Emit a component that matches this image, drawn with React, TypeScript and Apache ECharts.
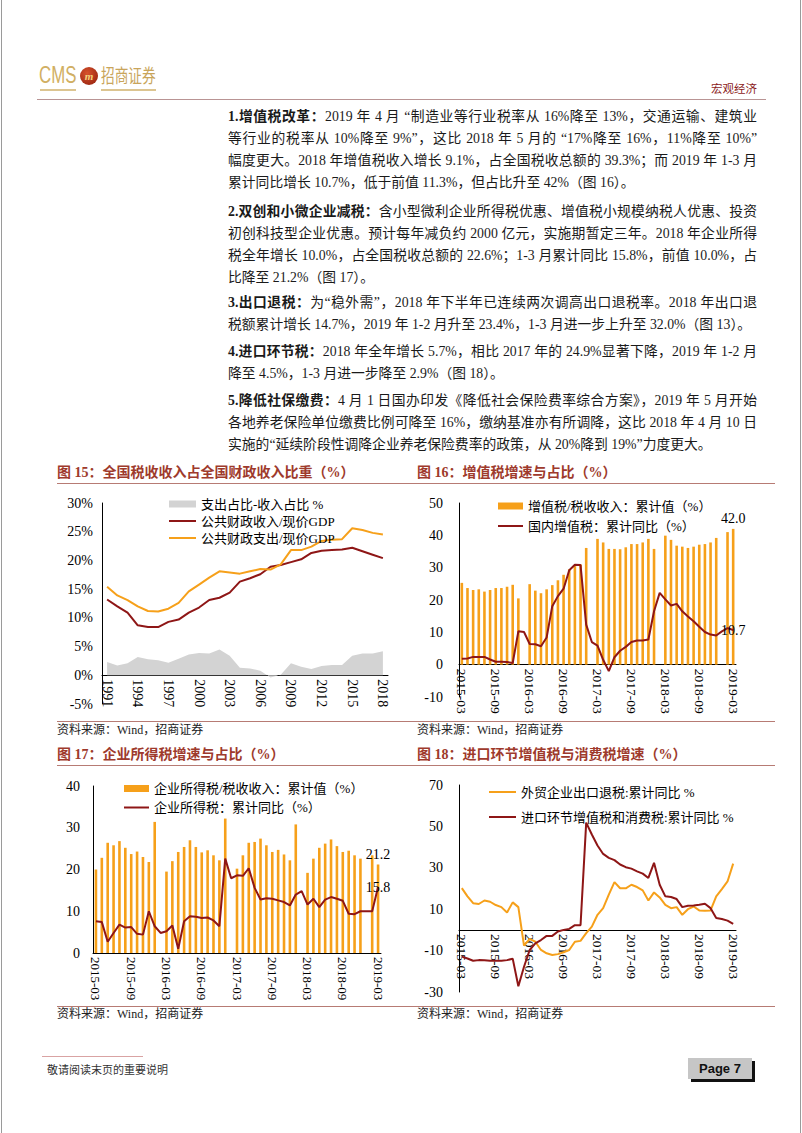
import React, { useEffect, useRef } from "react";
import * as echarts from "echarts";

// ---------- data ----------
const YEARS = ["1991","1992","1993","1994","1995","1996","1997","1998","1999","2000","2001","2002","2003","2004","2005","2006","2007","2008","2009","2010","2011","2012","2013","2014","2015","2016","2017","2018"];
const GAP_15 = [2.3,1.7,2.1,3.2,2.8,2.6,2.2,2.9,3.6,3.9,3.8,4.5,3.4,1.3,1.2,0.8,-0.4,0.1,2.1,1.5,1.1,1.6,1.8,1.8,3.4,3.8,3.8,4.2];
const REVENUE_15 = [13.2,12.0,10.9,8.7,8.4,8.4,9.3,9.7,10.9,11.8,13.1,13.5,14.4,16.3,16.9,17.6,18.9,19.2,19.7,20.2,21.3,21.7,21.8,21.9,22.2,21.6,21.0,20.4];
const EXPEND_15 = [15.4,13.9,13.1,12.0,11.2,11.1,11.6,12.6,14.6,15.8,17.0,18.1,17.9,17.7,18.1,18.5,18.4,19.3,21.8,21.8,22.4,23.4,23.6,23.7,25.6,25.3,24.8,24.5];

const MONTHS = ["2015-03","2015-04","2015-05","2015-06","2015-07","2015-08","2015-09","2015-10","2015-11","2015-12","2016-01","2016-02","2016-03","2016-04","2016-05","2016-06","2016-07","2016-08","2016-09","2016-10","2016-11","2016-12","2017-01","2017-02","2017-03","2017-04","2017-05","2017-06","2017-07","2017-08","2017-09","2017-10","2017-11","2017-12","2018-01","2018-02","2018-03","2018-04","2018-05","2018-06","2018-07","2018-08","2018-09","2018-10","2018-11","2018-12","2019-01","2019-02","2019-03"];

const VAT_SHARE = [25.3,23.7,23.1,23.3,22.6,23.1,23.7,23.7,24.1,24.7,20.5,null,24.9,22.9,22.1,23.3,24.6,26.1,27.8,29.5,30.5,31.0,36.1,null,38.9,37.8,35.8,35.8,35.7,36.3,37.3,37.3,37.8,38.9,35.8,null,39.9,38.6,36.8,36.5,36.1,36.5,37.1,37.3,37.8,39.2,null,41.0,42.0];
const VAT_GROWTH = [1.8,1.9,2.4,2.4,2.4,1.6,0.9,0.9,0.8,0.5,10.3,10.1,6.4,6.3,5.7,8.4,18.1,21.2,23.5,29.2,30.9,30.8,12.4,7.0,5.9,1.5,-2.0,2.3,4.3,5.5,7.0,7.5,7.5,7.8,16.5,22.2,20.2,18.3,18.8,16.5,14.9,13.4,11.7,10.1,9.3,9.0,10.3,11.3,10.7];

const CIT_SHARE = [20.0,22.8,26.4,25.8,26.8,25.2,23.7,24.3,23.0,21.8,31.4,null,19.5,22.0,24.2,25.4,27.0,25.4,24.1,24.6,23.4,22.2,32.2,null,20.2,23.4,26.4,26.6,27.4,25.8,24.2,24.7,23.6,22.2,30.8,null,19.2,22.6,25.2,26.2,27.2,25.6,24.2,24.5,23.4,22.6,null,23.4,21.2];
const CIT_GROWTH = [7.6,7.4,2.7,4.8,6.8,6.1,6.2,4.6,4.4,10.0,6.4,4.8,5.2,6.6,1.0,7.6,8.8,8.7,8.4,8.5,7.8,6.4,22.6,17.9,18.6,18.5,20.3,15.6,12.8,13.1,13.0,12.6,12.2,11.4,14.0,14.8,11.6,13.0,11.0,12.8,13.4,13.0,12.5,9.4,9.3,10.0,10.0,10.0,15.8];

const EXPORT_REBATE = [20.2,16.2,12.9,12.5,14.2,13.6,12.0,11.0,8.4,13.3,11.0,-7.6,-4.4,-5.7,-9.7,-11.3,-12.1,-11.7,-10.8,-9.7,-5.7,-5.3,-1.6,1.6,7.3,10.5,17.0,23.1,20.1,20.1,21.8,20.7,19.1,14.2,18.1,15.7,12.1,10.5,11.0,7.3,10.0,11.3,9.4,9.2,9.4,16.2,19.7,23.4,32.0];
const IMPORT_TAX = [-12.9,-13.8,-14.9,-14.6,-14.7,-14.9,-14.9,-14.9,-14.6,-13.9,-27.2,-17.8,-9.7,-6.5,-4.9,-2.9,-2.9,-0.8,0.0,0.5,2.3,2.3,51.8,46.1,40.8,36.7,34.8,33.7,31.6,30.3,29.6,28.3,27.2,25.1,32.4,21.8,16.2,15.9,14.9,11.0,11.7,11.8,12.1,12.6,10.5,5.8,5.3,4.5,2.9];

// ---------- styles ----------
const ORANGE = "#F6A01A";
const DARKRED = "#8E1616";
const GRAY = "#D3D3D3";
const TITLE_RED = "#9E3A2C";
const RULE = "#B77B74";
const SERIF = "'Liberation Serif','Noto Sans CJK SC',serif";
const CJK = "'Liberation Serif','Noto Sans CJK SC',sans-serif";

function Chart({ option, style }: { option: any; style: React.CSSProperties }) {
  const ref = useRef<HTMLDivElement>(null);
  useEffect(() => {
    if (!ref.current) return;
    const c = echarts.init(ref.current, null, { renderer: "svg" });
    c.setOption(option);
    return () => c.dispose();
  }, []);
  return <div ref={ref} style={{ position: "absolute", ...style }} />;
}

// x axis that sits on the value 0 (labels included), via an offset computed from the grid
const xAxisAt = (data: string[], gridH: number, min: number, max: number, fontSize: number, interval: number) => ({
  type: "category",
  data,
  boundaryGap: true,
  offset: -(gridH * (0 - min)) / (max - min),
  axisLine: { onZero: false, lineStyle: { color: "#000", width: 1 } },
  axisTick: { show: false },
  axisLabel: { interval, rotate: -90, fontFamily: SERIF, fontSize, color: "#000", margin: 4 },
});

const yAxisBase = (min: number, max: number, interval: number, margin: number, fmt?: string) => ({
  type: "value",
  min,
  max,
  interval,
  splitLine: { show: false },
  axisTick: { show: false },
  axisLine: { show: true, lineStyle: { color: "#000", width: 1 } },
  axisLabel: { formatter: fmt || "{value}", fontFamily: SERIF, fontSize: 14, color: "#000", margin },
});

const lastLabelBar = (arr: (number | null)[]) =>
  arr.map((v, i) =>
    i === arr.length - 1
      ? {
          value: v,
          label: {
            show: true,
            position: "top",
            distance: 3,
            formatter: (p: any) => Number(p.value).toFixed(1),
            fontFamily: SERIF,
            fontSize: 14,
            color: "#000",
          },
        }
      : v
  );

const endLabel = {
  show: true,
  formatter: (p: any) => Number(p.value).toFixed(1),
  distance: 0,
  align: "center",
  verticalAlign: "middle",
  fontFamily: SERIF,
  fontSize: 14,
  color: "#000",
};

const lineLegend = (name: string) => ({ name, itemStyle: { opacity: 0 } });
const baseGrid = { containLabel: false, outerBoundsMode: "none" };
const legendText = (lh: number) => ({ fontFamily: CJK, fontSize: 13, color: "#000", lineHeight: lh });

const N15 = ["支出占比-收入占比 %", "公共财政收入/现价GDP", "公共财政支出/现价GDP"];
const G15 = { left: 72, top: 15, width: 286, height: 201 };
const option15 = {
  animation: false,
  grid: { ...baseGrid, ...G15 },
  legend: {
    orient: "vertical",
    left: 133,
    top: 4,
    itemWidth: 27,
    itemHeight: 7,
    itemGap: 3,
    textStyle: legendText(14),
    data: [{ name: N15[0], icon: "rect" }, lineLegend(N15[1]), lineLegend(N15[2])],
  },
  xAxis: xAxisAt(YEARS, G15.height, -5, 30, 14, 2),
  yAxis: yAxisBase(-5, 30, 5, 9, "{value}%"),
  series: [
    { name: N15[0], type: "line", data: GAP_15, symbol: "none", color: GRAY, itemStyle: { color: GRAY }, lineStyle: { width: 0, color: GRAY }, areaStyle: { color: GRAY, opacity: 1 } },
    { name: N15[1], type: "line", data: REVENUE_15, symbol: "none", color: DARKRED, itemStyle: { color: DARKRED }, lineStyle: { width: 2, color: DARKRED } },
    { name: N15[2], type: "line", data: EXPEND_15, symbol: "none", color: ORANGE, itemStyle: { color: ORANGE }, lineStyle: { width: 2, color: ORANGE } },
  ],
};

const N16 = ["增值税/税收收入：累计值（%）", "国内增值税：累计同比（%）"];
const G16 = { left: 59, top: 15, width: 277, height: 194 };
const option16 = {
  animation: false,
  grid: { ...baseGrid, ...G16 },
  legend: {
    orient: "vertical",
    left: 92,
    top: 5,
    itemWidth: 25,
    itemHeight: 7,
    itemGap: 4,
    textStyle: legendText(16),
    data: [{ name: N16[0], icon: "rect" }, lineLegend(N16[1])],
  },
  xAxis: xAxisAt(MONTHS, G16.height, -10, 50, 13.5, 5),
  yAxis: yAxisBase(-10, 50, 10, 16),
  series: [
    { name: N16[0], type: "bar", data: lastLabelBar(VAT_SHARE), barWidth: 2.6, color: ORANGE, itemStyle: { color: ORANGE } },
    { name: N16[1], type: "line", data: VAT_GROWTH, symbol: "none", color: DARKRED, itemStyle: { color: DARKRED }, lineStyle: { width: 2, color: DARKRED }, endLabel },
  ],
};

const N17 = ["企业所得税/税收收入：累计值（%）", "企业所得税：累计同比（%）"];
const G17 = { left: 63, top: 16, width: 288, height: 167 };
const option17 = {
  animation: false,
  grid: { ...baseGrid, ...G17 },
  legend: {
    orient: "vertical",
    left: 88,
    top: 6,
    itemWidth: 25,
    itemHeight: 7,
    itemGap: 4,
    textStyle: legendText(15),
    data: [{ name: N17[0], icon: "rect" }, lineLegend(N17[1])],
  },
  xAxis: xAxisAt(MONTHS, G17.height, 0, 40, 13, 5),
  yAxis: yAxisBase(0, 40, 10, 13),
  series: [
    { name: N17[0], type: "bar", data: lastLabelBar(CIT_SHARE), barWidth: 2.6, color: ORANGE, itemStyle: { color: ORANGE } },
    { name: N17[1], type: "line", data: CIT_GROWTH, symbol: "none", color: DARKRED, itemStyle: { color: DARKRED }, lineStyle: { width: 2, color: DARKRED }, endLabel },
  ],
};

const N18 = ["外贸企业出口退税:累计同比 %", "进口环节增值税和消费税:累计同比 %"];
const G18 = { left: 59, top: 15, width: 277, height: 207 };
const option18 = {
  animation: false,
  grid: { ...baseGrid, ...G18 },
  legend: {
    orient: "vertical",
    left: 83,
    top: 9,
    itemWidth: 27,
    itemHeight: 7,
    itemGap: 9,
    textStyle: legendText(16),
    data: [lineLegend(N18[0]), lineLegend(N18[1])],
  },
  xAxis: xAxisAt(MONTHS, G18.height, -30, 70, 13.5, 5),
  yAxis: yAxisBase(-30, 70, 20, 16),
  series: [
    { name: N18[0], type: "line", data: EXPORT_REBATE, symbol: "none", color: ORANGE, itemStyle: { color: ORANGE }, lineStyle: { width: 2, color: ORANGE } },
    { name: N18[1], type: "line", data: IMPORT_TAX, symbol: "none", color: DARKRED, itemStyle: { color: DARKRED }, lineStyle: { width: 2, color: DARKRED } },
  ],
};

// ---------- page text ----------
type Line = { y: number; bold?: string; text: string; full: boolean };
const PARAS: Line[] = [
  { y: 117, bold: "1.增值税改革：", text: "2019 年 4 月 “制造业等行业税率从 16%降至 13%，交通运输、建筑业", full: true },
  { y: 139, text: "等行业的税率从 10%降至 9%”，这比 2018 年 5 月的 “17%降至 16%，11%降至 10%”", full: true },
  { y: 161, text: "幅度更大。2018 年增值税收入增长 9.1%，占全国税收总额的 39.3%；而 2019 年 1-3 月", full: true },
  { y: 183, text: "累计同比增长 10.7%，低于前值 11.3%，但占比升至 42%（图 16）。", full: false },
  { y: 212, bold: "2.双创和小微企业减税：", text: "含小型微利企业所得税优惠、增值税小规模纳税人优惠、投资", full: true },
  { y: 234, text: "初创科技型企业优惠。预计每年减负约 2000 亿元，实施期暂定三年。2018 年企业所得", full: true },
  { y: 256, text: "税全年增长 10.0%，占全国税收总额的 22.6%；1-3 月累计同比 15.8%，前值 10.0%，占", full: true },
  { y: 278, text: "比降至 21.2%（图 17）。", full: false },
  { y: 303, bold: "3.出口退税：", text: "为“稳外需”，2018 年下半年已连续两次调高出口退税率。2018 年出口退", full: true },
  { y: 325, text: "税额累计增长 14.7%，2019 年 1-2 月升至 23.4%，1-3 月进一步上升至 32.0%（图 13）。", full: false },
  { y: 352, bold: "4.进口环节税：", text: "2018 年全年增长 5.7%，相比 2017 年的 24.9%显著下降，2019 年 1-2 月", full: true },
  { y: 374, text: "降至 4.5%，1-3 月进一步降至 2.9%（图 18）。", full: false },
  { y: 401, bold: "5.降低社保缴费：", text: "4 月 1 日国办印发《降低社会保险费率综合方案》，2019 年 5 月开始", full: true },
  { y: 423, text: "各地养老保险单位缴费比例可降至 16%，缴纳基准亦有所调降，这比 2018 年 4 月 10 日", full: true },
  { y: 445, text: "实施的“延续阶段性调降企业养老保险费率的政策，从 20%降到 19%”力度更大。", full: false },
];

const abs = (s: React.CSSProperties): React.CSSProperties => ({ position: "absolute", ...s });

function Title({ x, y, text }: { x: number; y: number; text: string }) {
  return (
    <div style={abs({ left: x, top: y - 9, height: 18, lineHeight: "18px", fontFamily: CJK, fontSize: 14, fontWeight: "bold", color: TITLE_RED, whiteSpace: "nowrap" })}>
      {text}
    </div>
  );
}
function Source({ x, y }: { x: number; y: number }) {
  return (
    <div style={abs({ left: x, top: y - 8, height: 16, lineHeight: "16px", fontFamily: CJK, fontSize: 12, color: "#222", whiteSpace: "nowrap" })}>
      资料来源：Wind，招商证券
    </div>
  );
}
function HRule({ x1, x2, y, color, h = 1 }: { x1: number; x2: number; y: number; color: string; h?: number }) {
  return <div style={abs({ left: x1, top: y, width: x2 - x1, height: h, background: color })} />;
}

export default function App() {
  useEffect(() => {
    document.body.style.margin = "0";
  }, []);
  return (
    <div style={abs({ left: 0, top: 0, width: 802, height: 1133, background: "#fff", overflow: "hidden" })}>
      {/* page borders */}
      <div style={abs({ left: 1, top: 0, width: 1, height: 1133, background: "#9a9a9a" })} />
      <div style={abs({ left: 800, top: 0, width: 1, height: 1133, background: "#9a9a9a" })} />

      {/* header logo */}
      <div style={abs({ left: 39, top: 62, fontFamily: "'Liberation Sans',sans-serif", fontSize: 24, color: "#D1AF63", lineHeight: "26px", transform: "scaleX(0.7)", transformOrigin: "left top", whiteSpace: "nowrap" })}>CMS</div>
      <div style={abs({ left: 80, top: 67, width: 18, height: 18, borderRadius: "50%", background: "radial-gradient(circle at 40% 35%, #d8532c, #8e1c0c)", color: "#f4d27a", fontFamily: "'Liberation Serif',serif", fontStyle: "italic", fontWeight: "bold", fontSize: 11, lineHeight: "18px", textAlign: "center" })}>m</div>
      <div style={abs({ left: 101, top: 63, fontFamily: "'Noto Sans CJK SC',sans-serif", fontSize: 19, color: "#C9A55B", lineHeight: "24px", whiteSpace: "nowrap", transform: "scaleX(0.72)", transformOrigin: "left top" })}>招商证券</div>
      <HRule x1={40} x2={76} y={89} color="#DCC591" h={1.5} />
      <HRule x1={101} x2={156} y={89} color="#DCC591" h={1.5} />
      <div style={abs({ left: 711, top: 80, fontFamily: "'Noto Sans CJK SC',sans-serif", fontSize: 11.5, color: "#8B1A1A", lineHeight: "16px", whiteSpace: "nowrap" })}>宏观经济</div>
      <HRule x1={37} x2={766} y={99} color="#B99494" />

      {/* paragraphs */}
      {PARAS.map((l, i) => (
        <div
          key={i}
          style={abs({
            left: 228,
            top: l.y - 10,
            width: 529,
            height: 20,
            lineHeight: "20px",
            fontFamily: CJK,
            fontSize: 13.8,
            color: "#1a1a1a",
            whiteSpace: "nowrap",
            textAlign: l.full ? "justify" : "left",
            textAlignLast: l.full ? "justify" : "left",
          } as any)}
        >
          {l.bold ? <b>{l.bold}</b> : null}
          {l.text}
        </div>
      ))}

      {/* figure titles and rules */}
      <Title x={57} y={473} text="图 15：全国税收收入占全国财政收入比重（%）" />
      <Title x={417} y={473} text="图 16：增值税增速与占比（%）" />
      <HRule x1={57} x2={775} y={483} color={RULE} />
      <HRule x1={57} x2={775} y={721} color={RULE} />
      <Source x={57} y={730} />
      <Source x={417} y={730} />

      <Title x={57} y={755} text="图 17：企业所得税增速与占比（%）" />
      <Title x={417} y={755} text="图 18：进口环节增值税与消费税增速（%）" />
      <HRule x1={57} x2={775} y={765} color={RULE} />
      <HRule x1={57} x2={775} y={1006} color={RULE} />
      <Source x={57} y={1014} />
      <Source x={417} y={1014} />

      {/* charts */}
      <Chart option={option15} style={{ left: 30, top: 488, width: 370, height: 232 }} />
      <Chart option={option16} style={{ left: 400, top: 488, width: 390, height: 232 }} />
      <Chart option={option17} style={{ left: 30, top: 770, width: 370, height: 236 }} />
      <Chart option={option18} style={{ left: 400, top: 770, width: 390, height: 236 }} />

      {/* footer */}
      <HRule x1={42} x2={143} y={1056} color="#D9A3A3" />
      <div style={abs({ left: 47, top: 1061, fontFamily: "'Noto Sans CJK SC',sans-serif", fontSize: 11, color: "#333", lineHeight: "16px", whiteSpace: "nowrap" })}>敬请阅读末页的重要说明</div>
      <div style={abs({ left: 688, top: 1058, width: 64, height: 21, background: "#C6C6C6", boxShadow: "3px 3px 0 #111", fontFamily: "'Liberation Sans',Arial,sans-serif", fontWeight: "bold", fontSize: 13, lineHeight: "21px", textAlign: "center", color: "#111" })}>Page 7</div>
    </div>
  );
}
